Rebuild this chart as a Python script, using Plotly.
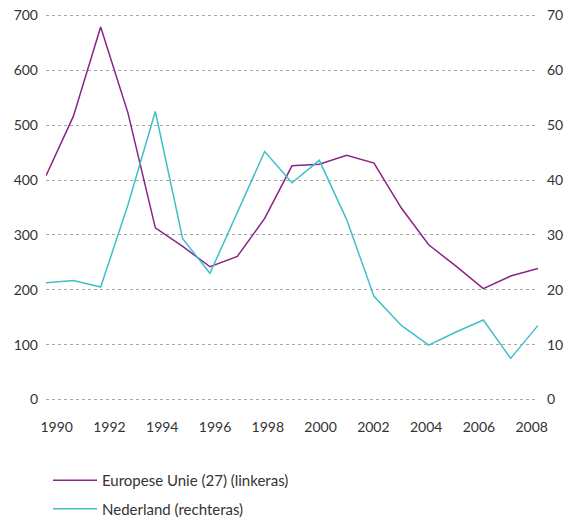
import plotly.graph_objects as go

years = [1990, 1991, 1992, 1993, 1994, 1995, 1996, 1997, 1998, 1999,
         2000, 2001, 2002, 2003, 2004, 2005, 2006, 2007, 2008]
eu_values = [408, 516, 679, 522, 313, 279, 242, 261, 330, 426,
             429, 445, 431, 349, 282, 243, 202, 225, 239]
nl_values = [21.3, 21.7, 20.5, 35.5, 52.5, 29.3, 23.0, 34.2, 45.2, 39.5,
             43.6, 32.8, 18.8, 13.5, 9.9, 12.3, 14.5, 7.5, 13.5]
x_tick_vals = [1990, 1992, 1994, 1996, 1998, 2000, 2002, 2004, 2006, 2008]
x_tick_text = ["1990", "1992", "1994", "1996", "1998", "2000", "2002", "2004", "2006", "2008"]
left_ticks = [0, 100, 200, 300, 400, 500, 600, 700]
right_ticks = [0, 10, 20, 30, 40, 50, 60, 70]
eu_name = "Europese Unie (27) (linkeras)"
nl_name = "Nederland (rechteras)"

EU_COLOR = "#8a2388"
NL_COLOR = "#3fc0c9"
FONT = "Lato"
TXT = "#333333"

fig = go.Figure()
# invisible carrier so the label axis is drawn
fig.add_trace(go.Scatter(x=x_tick_vals, y=[0] * len(x_tick_vals), mode="markers",
                         marker=dict(opacity=0), hoverinfo="skip", showlegend=False,
                         xaxis="x", yaxis="y"))
fig.add_trace(go.Scatter(x=years, y=eu_values, name=eu_name, mode="lines",
                         line=dict(color=EU_COLOR, width=1.5),
                         xaxis="x2", yaxis="y", legendgroup="eu"))
fig.add_trace(go.Scatter(x=years, y=nl_values, name=nl_name, mode="lines",
                         line=dict(color=NL_COLOR, width=1.5),
                         xaxis="x2", yaxis="y2", legendgroup="nl"))

fig.update_layout(
    width=568, height=518,
    margin=dict(l=46, r=30, t=10.2, b=112.5, autoexpand=False),
    paper_bgcolor="white", plot_bgcolor="white",
    font=dict(family=FONT, size=14, color=TXT),
    showlegend=True,
    legend=dict(x=0.0845, xref="container", xanchor="left", y=0.1042, yref="container",
                yanchor="top", orientation="v", tracegroupgap=6,
                font=dict(size=15, color=TXT), bgcolor="rgba(0,0,0,0)", itemwidth=44),
    xaxis=dict(range=[1989.595, 2008.239], tickvals=x_tick_vals, ticktext=x_tick_text,
               showgrid=False, zeroline=False, showline=False, ticks="",
               ticklabelstandoff=12, anchor="y", automargin=False,
               ticklabeloverflow="allow"),
    xaxis2=dict(range=[1990, 2008], overlaying="x", visible=False, anchor="y"),
    yaxis=dict(range=[-10, 710], tickvals=left_ticks, showgrid=True,
               gridcolor="#a8a8a8", griddash="dot", gridwidth=1,
               zeroline=False, showline=False, ticks="", ticklabelstandoff=7,
               automargin=False, ticklabeloverflow="allow"),
    yaxis2=dict(range=[-1, 71], tickvals=right_ticks, overlaying="y", side="right",
                showgrid=False, zeroline=False, showline=False, ticks="",
                ticklabelstandoff=8, anchor="x", automargin=False,
                ticklabeloverflow="allow"),
)

fig.write_html("out.html", config={"displayModeBar": False},
               post_script="document.body.style.margin='0';")
